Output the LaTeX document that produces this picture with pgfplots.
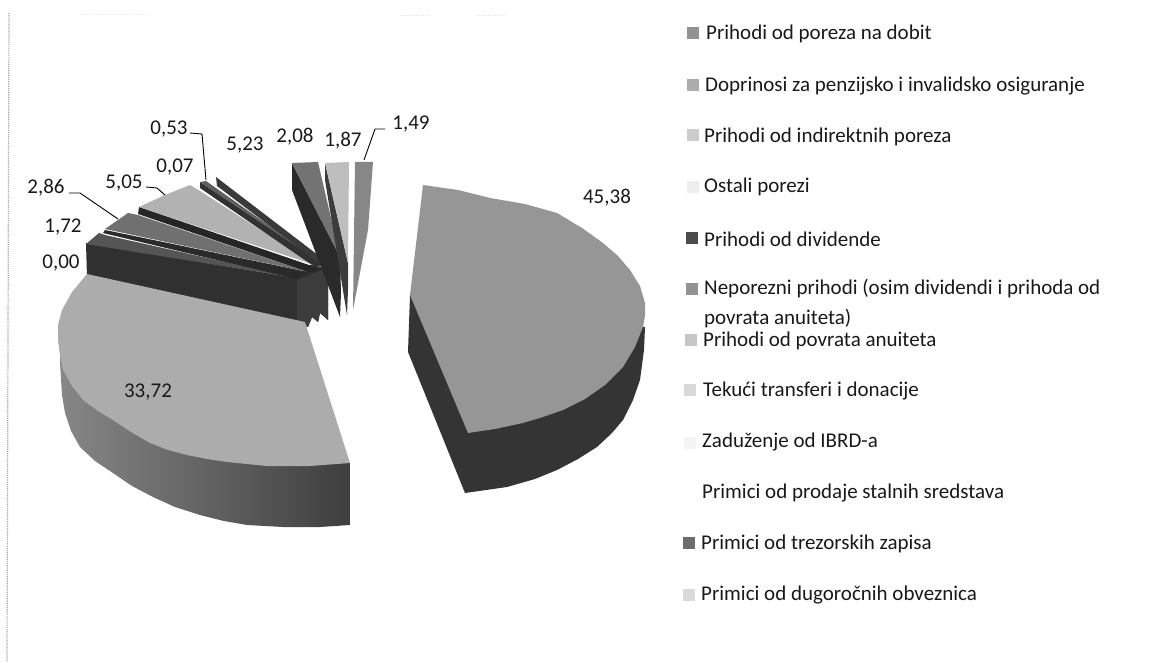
\documentclass[border=0pt]{standalone}
\usepackage{pgfplots}
\pgfplotsset{compat=1.18}
\usepackage{fontspec}
\setmainfont{Carlito}
\definecolor{txt}{gray}{0.1}
\newcommand{\fs}{\fontsize{21}{22}\selectfont}
\newcommand{\slice}[2]{\addplot[#1,draw=none,forget plot] coordinates {#2} --cycle;}
\newcommand{\lab}[3]{\node[font=\fs,text=txt,anchor=center,inner sep=0pt] at (axis cs:#1,#2) {#3};}
\newcommand{\leg}[3]{\node[font=\fs,text=txt,anchor=west,inner sep=0pt] at (axis cs:#1,#2) {#3};}
\newcommand{\sq}[3]{\addplot[only marks,mark=square*,mark size=5.5pt,color=#3,forget plot] coordinates {(#1,#2)};}
\newcommand{\lead}[1]{\addplot[black,line width=0.9pt,forget plot] coordinates {#1};}
\begin{document}
\begin{tikzpicture}
\begin{axis}[width=1155pt,height=662pt,scale only axis,xmin=0,xmax=1155,ymin=0,ymax=662,y dir=reverse,
 axis lines=none,clip=false]
\path (axis cs:0,0) rectangle (axis cs:1155,662);
% scan margin
\addplot[gray!70,line width=1.2pt,densely dotted,forget plot] coordinates {(9,13)(7,662)};
\addplot[gray!18,line width=0.8pt,densely dotted,forget plot] coordinates {(80,14)(150,14)};
\addplot[gray!18,line width=0.8pt,densely dotted,forget plot] coordinates {(400,15)(430,15)};
\addplot[gray!18,line width=0.8pt,densely dotted,forget plot] coordinates {(475,15)(505,15)};
% right big slice
\slice{fill={rgb,255:red,52;green,52;blue,52}}{(410,295)(408,352)(465,493)(507,487)(535,479)(557,470)(578,459)(597,447)(612,433)(623,420)(633,400)(640,380)(644,350)(645,327)}
\slice{fill={rgb,255:red,150;green,150;blue,150}}{(423,185)(458,190)(490,198)(525,204)(557,213)(582,228)(603,243)(618,256)(630,270)(640,286)(645,303)(645,316)(643,327)(635,347)(623,367)(605,385)(585,399)(563,410)(543,417)(523,423)(495,429)(468,433)(410,295)}
% fan dark mass
\slice{fill={rgb,255:red,48;green,48;blue,48}}{(86,243)(87,278)(200,301)(297,323)(308,327)(312,317)(318,322)(320,313)(328,320)(328,268)(310,265)(297,278)}
\slice{fill={rgb,255:red,60;green,60;blue,60}}{(297,280)(328,268)(328,320)(320,313)(318,322)(312,317)(308,327)(297,323)}
% left big slice
\slice{left color={rgb,255:red,135;green,135;blue,135},right color={rgb,255:red,62;green,62;blue,62},draw=none}{(60,363)(62,395)(65,413)(71,431)(80,447)(95,461)(113,473)(132,486)(153,497)(175,507)(200,515)(224,521)(247,525)(283,527)(320,527)(350,525)(350,463)(60,345)}
\slice{fill={rgb,255:red,172;green,172;blue,172}}{(87,274)(72,292)(62,310)(58,325)(58,340)(60,356)(63,370)(72,386)(83,400)(98,411)(113,420)(131,432)(150,443)(168,450)(187,455)(207,459)(227,462)(267,466)(310,466)(350,463)(305,322)}
\slice{fill={rgb,255:red,85;green,85;blue,85}}{(86,244)(99,233)(105,235)(297,278)}
\slice{fill={rgb,255:red,42;green,42;blue,42}}{(105,230)(103,233)(297,279)(308,272)}
\slice{fill={rgb,255:red,112;green,112;blue,112}}{(105,229)(128,213)(138,215)(308,272)}
\slice{fill={rgb,255:red,38;green,38;blue,38}}{(139,207)(138,214)(308,272)(320,270)(312,266)}
\slice{fill={rgb,255:red,178;green,178;blue,178}}{(139,207)(165,195)(190,185)(200,191)(315,265)}
\slice{fill={rgb,255:red,50;green,50;blue,50}}{(200,182)(200,188)(315,267)(325,265)}
\slice{fill={rgb,255:red,95;green,95;blue,95}}{(200,182)(206,181)(325,265)}
\slice{fill={rgb,255:red,58;green,58;blue,58}}{(216,177)(217,186)(328,270)(327,262)}
% right fan
\slice{fill={rgb,255:red,42;green,42;blue,42}}{(292,163)(292,190)(340,317)(341,293)(340,257)}
\slice{fill={rgb,255:red,115;green,115;blue,115}}{(292,163)(318,162)(340,257)}
\slice{fill={rgb,255:red,60;green,60;blue,60}}{(325,163)(325,180)(347,315)(348,290)(348,263)}
\slice{fill={rgb,255:red,190;green,190;blue,190}}{(325,163)(349,162)(348,263)}
\slice{fill={rgb,255:red,135;green,135;blue,135}}{(355,162)(373,162)(368,230)(353,310)}
% leaders
\lead{(190,133)(202,134)(206,180)}
\lead{(146,187)(157,188)(165,195)}
\lead{(69,193)(80,193)(118,219)}
\lead{(385,129)(375,129)(364,160)}
% value labels
\lab{169}{129}{0,53}
\lab{245}{145}{5,23}
\lab{295}{137}{2,08}
\lab{343}{141}{1,87}
\lab{411}{124}{1,49}
\lab{175}{167}{0,07}
\lab{124}{183}{5,05}
\lab{46}{188}{2,86}
\lab{63}{227}{1,72}
\lab{61}{263}{0,00}
\lab{148}{392}{33,72}
\lab{607}{198}{45,38}
% legend
\sq{693}{33}{gray!85}
\sq{693}{85}{gray!65}
\sq{693}{135}{gray!40}
\sq{693}{187}{gray!13}
\sq{692}{238}{gray!60!black}
\sq{692}{289}{gray!85}
\sq{691}{340}{gray!45}
\sq{690}{390}{gray!30}
\sq{690}{443}{gray!9}
\sq{689}{543}{gray!85!black}
\sq{689}{595}{gray!30}
\leg{706}{34}{Prihodi od poreza na dobit}
\leg{705}{86}{Doprinosi za penzijsko i invalidsko osiguranje}
\leg{704}{137}{Prihodi od indirektnih poreza}
\leg{704}{187}{Ostali porezi}
\leg{704}{239}{Prihodi od dividende}
\leg{704}{289}{Neporezni prihodi (osim dividendi i prihoda od}
\leg{704}{319}{povrata anuiteta)}
\leg{703}{341}{Prihodi od povrata anuiteta}
\leg{703}{391}{Tekući transferi i donacije}
\leg{702}{442}{Zaduženje od IBRD-a}
\leg{702}{493}{Primici od prodaje stalnih sredstava}
\leg{701}{544}{Primici od trezorskih zapisa}
\leg{701}{595}{Primici od dugoročnih obveznica}
\end{axis}
\end{tikzpicture}
\end{document}
